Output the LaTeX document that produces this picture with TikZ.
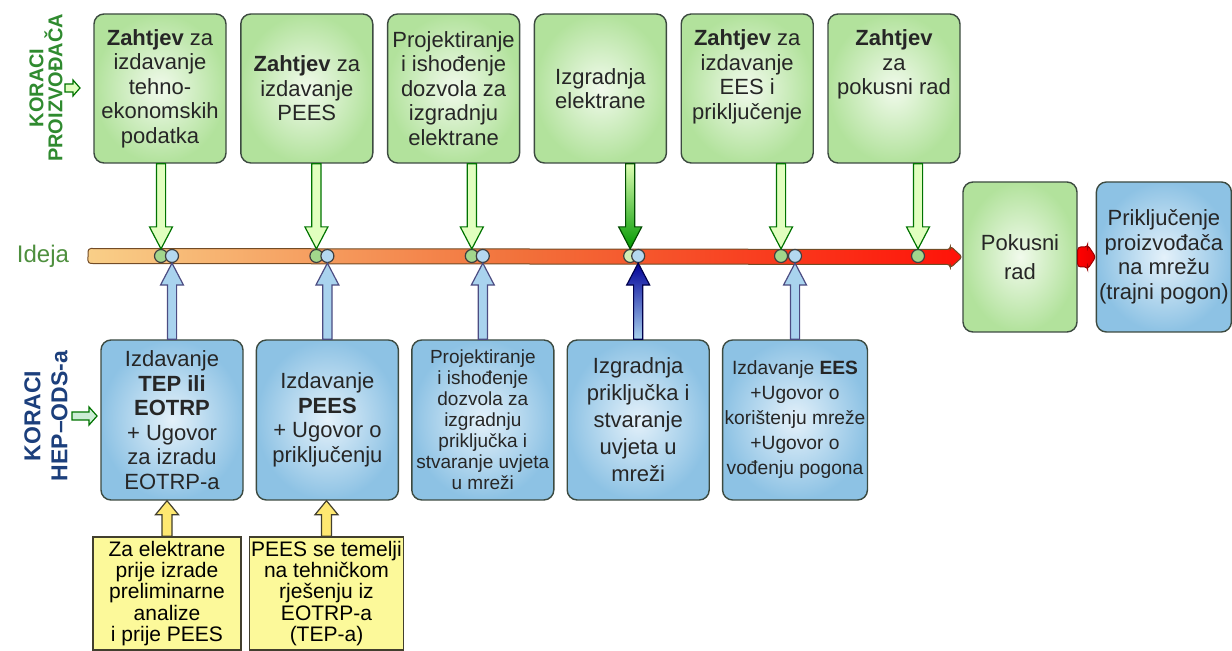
\documentclass[tikz,border=0pt]{standalone}
\usepackage{fontspec}
\setmainfont{Liberation Sans}
\usetikzlibrary{positioning,calc}

\definecolor{boxgreen}{HTML}{B2E29C}
\definecolor{palegreen}{HTML}{F1FAEC}
\definecolor{boxblue}{HTML}{8DC2E4}
\definecolor{paleblue}{HTML}{E4F1FA}
\definecolor{noteyellow}{HTML}{FCF99A}
\definecolor{edge}{HTML}{3C4A40}
\definecolor{labgreen}{HTML}{2F8A2F}
\definecolor{labblue}{HTML}{1C3F7C}
\definecolor{ideagreen}{HTML}{4E8F3E}
\definecolor{barleft}{HTML}{F9CF88}
\definecolor{barmid}{HTML}{F2703A}
\definecolor{barright}{HTML}{FF1208}
\definecolor{arrowblue}{HTML}{A9D3EE}
\definecolor{dotblue}{HTML}{B4D8F0}
\definecolor{dotgreen}{HTML}{A2D68C}

% hollow block arrow: [style]{from}{to}{half shaft}{half head}{head length}
\newcommand\blockarrow[6][]{%
  \path (#2) coordinate (bas) (#3) coordinate (bat)
        ($(bat)!#6!(bas)$) coordinate (bah);
  \path[#1] ($(bas)!#4!90:(bat)$) -- ($(bah)!#4!90:(bat)$)
        -- ($(bah)!#5!90:(bat)$) -- (bat) -- ($(bah)!#5!-90:(bat)$)
        -- ($(bah)!#4!-90:(bat)$) -- ($(bas)!#4!-90:(bat)$) -- cycle;}

\begin{document}
\begin{tikzpicture}[
	x=0.5pt, y=-0.5pt,
	node distance=6.7pt,
	stepbox/.style = {
		draw=edge, line width=0.7pt, rounded corners=5pt,
		align=center, inner sep=1pt, text=black!85},
	prozbox/.style = {
		stepbox, inner color=palegreen, outer color=boxgreen,
		minimum width=66pt, minimum height=74.5pt,
		font=\fontsize{11}{12.25}\selectfont},
	hepbox/.style = {
		stepbox, inner color=paleblue, outer color=boxblue,
		minimum width=71pt, minimum height=80pt,
		font=\fontsize{11}{12.25}\selectfont},
	notebox/.style = {
		draw=black!70!olive, line width=0.7pt, fill=noteyellow,
		align=center, inner sep=1pt, minimum height=56.5pt,
		font=\fontsize{10.5}{10.7}\selectfont},
	sidelabel/.style = {
		rotate=90, align=center, inner sep=1pt},
	gdot/.style = {circle, draw=black!75, fill=dotgreen,
		minimum size=6.5pt, inner sep=0pt, line width=0.6pt},
	bdot/.style = {gdot, fill=dotblue},
	bar/.style = {left color=barleft, right color=barright,
		middle color=barmid, draw=brown!60!black,
		line width=0.5pt, rounded corners=1.5pt},
	garrow/.style = {draw=black!55!green, fill=green!30!lime!25,
		line width=0.6pt},
	barrow/.style = {draw=blue!30!black!70, fill=arrowblue,
		line width=0.6pt},
	yarrow/.style = {draw=black!70!olive, fill=yellow!75!orange!55,
		line width=0.6pt}
]
\useasboundingbox (0,0) rectangle (1232,651);

% koraci proizvodjaca
\node (z1) [prozbox] at (160,88.5) {\textbf{Zahtjev} za\\izdavanje\\tehno-\\
                                    ekonomskih\\podatka};
\node (z2) [prozbox,right=of z1]  {\textbf{Zahtjev} za\\izdavanje\\PEES};
\node (z3) [prozbox,right=of z2]  {Projektiranje\\i ishođenje\\dozvola za\\
                                    izgradnju\\elektrane};
\node (z4) [prozbox,right=of z3]  {Izgradnja\\elektrane};
\node (z5) [prozbox,right=of z4,text depth=14pt]
                                  {\textbf{Zahtjev} za\\izdavanje\\EES i\\
                                    priključenje};
\node (z6) [prozbox,right=of z5,text depth=26pt]
                                  {\textbf{Zahtjev}\\za\\pokusni rad};

% koraci HEP-ODS-a
\node (h1) [hepbox] at (172,420)  {Izdavanje\\\textbf{TEP ili}\\\textbf{EOTRP}\\
                                    + Ugovor\\za izradu\\EOTRP-a};
\node (h2) [hepbox,right=6pt of h1] {Izdavanje\\\textbf{PEES}\\+ Ugovor o\\
                                    priključenju};
\node (h3) [hepbox,right=6pt of h2,font=\fontsize{9.5}{10.5}\selectfont]
                                  {Projektiranje\\i ishođenje\\dozvola za\\
                                    izgradnju\\priključka i\\stvaranje uvjeta\\
                                    u mreži};
\node (h4) [hepbox,right=6pt of h3,font=\fontsize{11}{13.5}\selectfont]
                                  {Izgradnja\\priključka i\\stvaranje\\
                                    uvjeta u\\mreži};
\node (h5) [hepbox,right=6pt of h4,font=\fontsize{9.6}{12.5}\selectfont]
                                  {Izdavanje \textbf{EES}\\+Ugovor o\\
                                    korištenju mreže\\+Ugovor o\\
                                    vođenju pogona};

\node (pokus)  [prozbox,minimum width=57pt,minimum height=75pt,
                font=\fontsize{11}{14.5}\selectfont] at (1020,257)
                                  {Pokusni\\rad};
\node (trajni) [hepbox,minimum width=67.5pt,minimum height=75pt,
                right=9pt of pokus] {Priključenje\\proizvođača\\na mrežu\\
                                    (trajni pogon)};

\node (n1) [notebox,minimum width=74pt] at (167,593.5)
                                  {Za elektrane\\prije izrade\\preliminarne\\
                                    analize\\i prije PEES};
\node (n2) [notebox,minimum width=76.5pt] at (326.5,593.5)
                                  {PEES se temelji\\na tehničkom\\rješenju iz\\
                                    EOTRP-a\\(TEP-a)};

% lijeve oznake
\node (lp) [sidelabel,text=labgreen,font=\bfseries\fontsize{10}{9.5}\selectfont]
            at (46,88) {KORACI\\PROIZVOĐAČA};
\node (lh) [sidelabel,text=labblue,font=\bfseries\fontsize{11.5}{13.5}\selectfont]
            at (46,416) {KORACI\\HEP--ODS-a};
\blockarrow[garrow]{lp.south}{[xshift=7.5pt]lp.south}{2pt}{4pt}{3.5pt}
\blockarrow[garrow,fill=cyan!20!green!20]{[xshift=1pt]lh.south}
           {[xshift=13.5pt]lh.south}{2pt}{4.5pt}{4pt}

% vremenska os
\coordinate (ideja) at (88,256);
\node (idea) [left=6pt of ideja,text=ideagreen,
              font=\fontsize{12}{12}\selectfont] {Ideja};
\blockarrow[bar]{ideja}{pokus.west}{3.75pt}{5.5pt}{6pt}
\blockarrow[bar,draw=red!60!black,left color=red,right color=red!90!black]
           {pokus.east}{trajni.west}{5pt}{6pt}{4pt}

\coordinate (os) at (0,256);
\coordinate (p1) at (h1 |- os);
\coordinate (p2) at (h2 |- os);
\coordinate (p3) at (h3 |- os);
\coordinate (p4) at (h4 |- os);
\coordinate (p5) at (h5 |- os);
\node (g1) [gdot] at ([xshift=-5.5pt]p1) {};
\node (g2) [gdot] at ([xshift=-5.5pt]p2) {};
\node (g3) [gdot] at ([xshift=-5.5pt]p3) {};
\node (g4) [gdot,fill=yellow!40!green!30] at ([xshift=-4pt]p4) {};
\node (g5) [gdot] at ([xshift=-7pt]p5) {};
\node (g6) [gdot] at (918,256) {};
\node (c1) [bdot] at (p1) {};
\node (c2) [bdot] at (p2) {};
\node (c3) [bdot] at (p3) {};
\node (c4) [bdot] at (p4) {};
\node (c5) [bdot] at (p5) {};

% strelice prema osi
\blockarrow[garrow]{z1.south -| g1}{g1.north}{2.3pt}{5.75pt}{11pt}
\blockarrow[garrow]{z2.south -| g2}{g2.north}{2.3pt}{5.75pt}{11pt}
\blockarrow[garrow]{z3.south -| g3}{g3.north}{2.3pt}{5.75pt}{11pt}
\blockarrow[garrow,top color=green!25!lime!30,bottom color=green!60!black,
            draw=green!30!black]{z4.south -| g4}{g4.north}{2.3pt}{5.75pt}{11pt}
\blockarrow[garrow]{z5.south -| g5}{g5.north}{2.3pt}{5.75pt}{11pt}
\blockarrow[garrow]{z6.south -| g6}{g6.north}{2.3pt}{5.75pt}{11pt}

\blockarrow[barrow]{h1.north}{c1.south}{2.3pt}{5.75pt}{11pt}
\blockarrow[barrow]{h2.north}{c2.south}{2.3pt}{5.75pt}{11pt}
\blockarrow[barrow]{h3.north}{c3.south}{2.3pt}{5.75pt}{11pt}
\blockarrow[barrow,top color=blue!60!black,bottom color=arrowblue,
            draw=blue!30!black]{h4.north}{c4.south}{2.3pt}{5.75pt}{11pt}
\blockarrow[barrow]{h5.north}{c5.south}{2.3pt}{5.75pt}{11pt}

\blockarrow[yarrow]{n1.north}{n1.north |- h1.south}{2.5pt}{5.75pt}{7pt}
\blockarrow[yarrow]{n2.north}{n2.north |- h2.south}{2.5pt}{5.75pt}{7pt}
\end{tikzpicture}
\end{document}
